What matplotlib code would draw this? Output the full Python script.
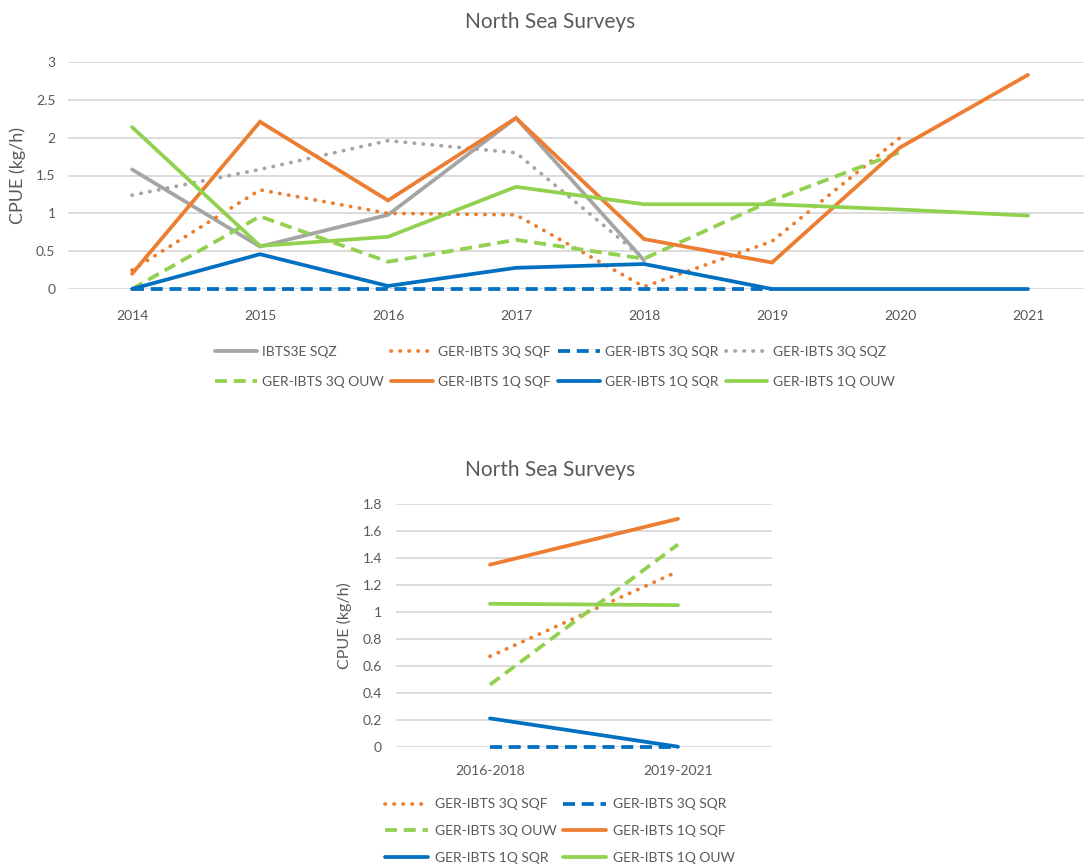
import matplotlib
matplotlib.use("Agg")
import matplotlib.pyplot as plt
import numpy as np

plt.rcParams['font.family'] = ['Lato', 'DejaVu Sans']

# ---- data: annual survey CPUE (kg/h) ----
years = ["2014", "2015", "2016", "2017", "2018", "2019", "2020", "2021"]

ibts3e_sqz = [1.58, 0.56, 0.98, 2.26, 0.38]
ger3q_sqf = [0.25, 1.31, 1.00, 0.98, 0.03, 0.63, 2.00]
ger3q_sqr = [0, 0, 0, 0, 0, 0]
ger3q_sqz = [1.24, 1.58, 1.96, 1.80, 0.40]
ger3q_ouw = [0.0, 0.96, 0.36, 0.65, 0.40, 1.17, 1.81]
ger1q_sqf = [0.20, 2.21, 1.17, 2.26, 0.66, 0.35, 1.87, 2.83]
ger1q_sqr = [0.0, 0.46, 0.04, 0.28, 0.33, 0.0, 0.0, 0.0]
ger1q_ouw = [2.14, 0.57, 0.69, 1.35, 1.12, 1.12, 1.05, 0.97]

# ---- data: period means ----
periods = ["2016-2018", "2019-2021"]
p3q_sqf = [0.67, 1.30]
p3q_sqr = [0.0, 0.0]
p3q_ouw = [0.46, 1.50]
p1q_sqf = [1.35, 1.69]
p1q_sqr = [0.21, 0.0]
p1q_ouw = [1.06, 1.05]

ORANGE = "#ED7D31"
BLUE = "#0070C0"
GRAY = "#A5A5A5"
GREEN = "#92D050"
TXT = "#595959"
GRID = "#D9D9D9"

DOT = (0, (0.1, 2.3))
DASH = (0, (3.2, 1.8))


def style_axes(ax):
    for s in ax.spines.values():
        s.set_visible(False)
    ax.grid(axis="y", color=GRID, lw=1.3)
    ax.set_axisbelow(True)
    ax.tick_params(length=0, colors=TXT, labelsize=10)


def draw(ax, vals, label, color, ls, lw=2.7):
    x = np.arange(len(vals))
    cap = "round" if ls == DOT else "butt"
    ax.plot(x, vals, color=color, ls=ls, lw=lw, label=label, clip_on=False,
            dash_capstyle=cap, solid_capstyle="round", solid_joinstyle="miter")


fig = plt.figure(figsize=(10.84, 8.65), dpi=100)

# ---- top chart ----
ax1 = fig.add_axes([68 / 1084, 1 - 289 / 865, 1024 / 1084, 227 / 865])
style_axes(ax1)
draw(ax1, ibts3e_sqz, "IBTS3E SQZ", GRAY, "-")
draw(ax1, ger3q_sqf, "GER-IBTS 3Q SQF", ORANGE, DOT)
draw(ax1, ger3q_sqr, "GER-IBTS 3Q SQR", BLUE, DASH)
draw(ax1, ger3q_sqz, "GER-IBTS 3Q SQZ", GRAY, DOT)
draw(ax1, ger3q_ouw, "GER-IBTS 3Q OUW", GREEN, DASH)
draw(ax1, ger1q_sqf, "GER-IBTS 1Q SQF", ORANGE, "-")
draw(ax1, ger1q_sqr, "GER-IBTS 1Q SQR", BLUE, "-")
draw(ax1, ger1q_ouw, "GER-IBTS 1Q OUW", GREEN, "-")
ax1.set_xlim(-0.5, len(years) - 0.5)
ax1.set_ylim(0, 3)
ax1.set_xticks(range(len(years)))
ax1.set_xticklabels(years)
ax1.set_yticks(np.arange(0, 3.01, 0.5))
ax1.set_yticklabels([f"{v:g}" for v in np.arange(0, 3.01, 0.5)])
ax1.tick_params(axis="x", pad=15)
ax1.tick_params(axis="y", pad=9)
ax1.set_ylabel("CPUE (kg/h)", color=TXT, fontsize=13)
ax1.yaxis.set_label_coords(-0.041, 0.5)
fig.text(550 / 1084, 1 - 22 / 865, "North Sea Surveys", ha="center", va="center",
         fontsize=15, color=TXT)

h, l = ax1.get_legend_handles_labels()
order = [0, 4, 1, 5, 2, 6, 3, 7]
fig.legend([h[i] for i in order], [l[i] for i in order], ncol=4,
           loc="center", bbox_to_anchor=(555 / 1084, 1 - 367 / 865),
           frameon=False, fontsize=10, labelcolor=TXT, handlelength=3.0,
           handletextpad=0.4, columnspacing=0.5, labelspacing=1.3)

# ---- bottom chart ----
ax2 = fig.add_axes([396 / 1084, 1 - 746.7 / 865, 376 / 1084, 242.7 / 865])
style_axes(ax2)
draw(ax2, p3q_sqf, "GER-IBTS 3Q SQF", ORANGE, DOT)
draw(ax2, p3q_sqr, "GER-IBTS 3Q SQR", BLUE, DASH)
draw(ax2, p3q_ouw, "GER-IBTS 3Q OUW", GREEN, DASH)
draw(ax2, p1q_sqf, "GER-IBTS 1Q SQF", ORANGE, "-")
draw(ax2, p1q_sqr, "GER-IBTS 1Q SQR", BLUE, "-")
draw(ax2, p1q_ouw, "GER-IBTS 1Q OUW", GREEN, "-")
ax2.set_xlim(-0.5, len(periods) - 0.5)
ax2.set_ylim(0, 1.8)
ax2.set_xticks(range(len(periods)))
ax2.set_xticklabels(periods)
yt = np.arange(0, 1.81, 0.2)
ax2.set_yticks(yt)
ax2.set_yticklabels([f"{v:g}" for v in np.round(yt, 1)])
ax2.tick_params(axis="x", pad=13)
ax2.tick_params(axis="y", pad=10)
ax2.set_ylabel("CPUE (kg/h)", color=TXT, fontsize=11.5)
ax2.yaxis.set_label_coords(-0.117, 0.5)
fig.text(550 / 1084, 1 - 470 / 865, "North Sea Surveys", ha="center", va="center",
         fontsize=15, color=TXT)

h, l = ax2.get_legend_handles_labels()
order = [0, 2, 4, 1, 3, 5]
fig.legend([h[i] for i in order], [l[i] for i in order], ncol=2,
           loc="center", bbox_to_anchor=(560 / 1084, 1 - 831 / 865),
           frameon=False, fontsize=10, labelcolor=TXT, handlelength=3.1,
           handletextpad=0.5, columnspacing=0.4, labelspacing=1.05)

fig.savefig("out.png", dpi=100)
